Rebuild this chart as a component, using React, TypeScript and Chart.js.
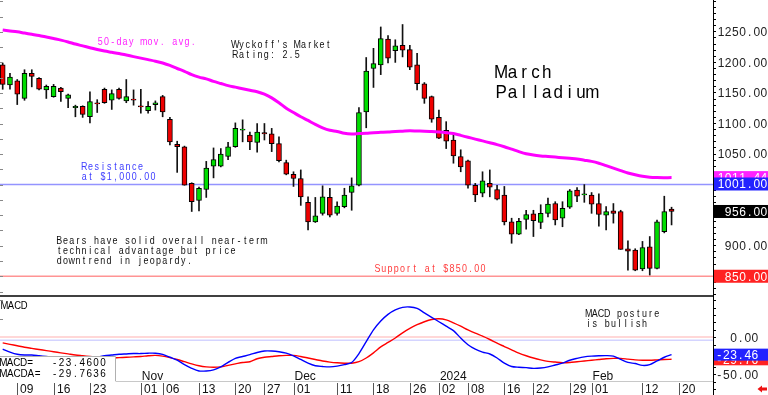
import React, { useEffect, useRef } from 'react';
import { Chart, registerables } from 'chart.js';

Chart.register(...registerables);

// ---------- DATA ----------
const opens = [
  1196, 1163, 1170, 1141, 1182, 1174, 1155, 1144, 1158, 1141,
  1126, 1128, 1111, 1134, 1156, 1138, 1156, 1137, 1140, 1129,
  1121, 1131, 1144, 1107, 1066, 1062, 1002, 974, 992, 1030,
  1030, 1046, 1062, 1089, 1081, 1069, 1085, 1083, 1067, 1036,
  1017, 1010, 971, 939, 953, 979, 953, 964, 987, 999,
  1119, 1190, 1196, 1238, 1219, 1228, 1221, 1196, 1165, 1144,
  1110, 1089, 1073, 1046, 1039, 999, 986, 1002, 992, 983,
  939, 919, 943, 952, 938, 953, 969, 945, 963, 991,
  983, 983, 969, 950, 957, 956, 895, 893, 862, 898,
  863, 923, 960,
];
const highs = [
  1199, 1182, 1172, 1188, 1188, 1175, 1163, 1164, 1159, 1148,
  1130, 1129, 1152, 1139, 1158, 1155, 1158, 1172, 1155, 1156,
  1136, 1137, 1146, 1110, 1071, 1063, 1003, 996, 1038, 1060,
  1059, 1069, 1101, 1106, 1086, 1100, 1100, 1092, 1078, 1040,
  1021, 1024, 980, 979, 998, 994, 972, 994, 1011, 1126,
  1208, 1223, 1258, 1244, 1237, 1262, 1228, 1215, 1167, 1145,
  1122, 1103, 1082, 1057, 1040, 1002, 1021, 1024, 999, 997,
  945, 945, 958, 958, 967, 978, 972, 972, 992, 995,
  1000, 987, 985, 964, 969, 958, 908, 895, 907, 915,
  942, 981, 963,
];
const lows = [
  1156, 1156, 1131, 1138, 1160, 1155, 1141, 1143, 1136, 1126,
  1111, 1110, 1101, 1118, 1133, 1123, 1140, 1134, 1130, 1117,
  1117, 1122, 1111, 1065, 1020, 999, 956, 957, 979, 1011,
  1029, 1041, 1061, 1070, 1057, 1053, 1073, 1054, 1037, 1016,
  997, 966, 926, 938, 950, 947, 950, 962, 958, 998,
  1093, 1159, 1180, 1199, 1200, 1209, 1188, 1155, 1133, 1102,
  1075, 1059, 1035, 1021, 994, 972, 980, 980, 975, 934,
  904, 918, 927, 915, 928, 947, 934, 931, 961, 972,
  971, 953, 932, 926, 937, 894, 860, 859, 859, 852,
  862, 921, 934,
];
const closes = [
  1164, 1176, 1148, 1182, 1177, 1156, 1161, 1161, 1152, 1147,
  1128, 1115, 1136, 1132, 1134, 1149, 1141, 1144, 1138, 1127,
  1128, 1134, 1119, 1070, 1062, 999, 972, 994, 1027, 1041,
  1050, 1062, 1092, 1091, 1070, 1086, 1083, 1067, 1039, 1017,
  1010, 980, 939, 949, 980, 950, 965, 983, 998, 1118,
  1186, 1198, 1239, 1207, 1227, 1220, 1192, 1165, 1141, 1107,
  1076, 1071, 1047, 1029, 999, 983, 1006, 996, 976, 939,
  919, 940, 951, 941, 953, 968, 942, 961, 990, 981,
  985, 968, 951, 956, 953, 894, 891, 860, 897, 863,
  939, 956, 956,
];
const ma50 = [
  1253, 1251.5, 1250, 1248, 1246, 1244, 1241.5, 1239, 1236.5, 1233.5,
  1230, 1227, 1224, 1221, 1218.5, 1216.5, 1214.5, 1212, 1209.5, 1207,
  1204.5, 1202, 1199, 1195, 1190, 1185.5, 1180, 1176, 1173, 1169,
  1165.5, 1162, 1159.5, 1157, 1154.5, 1152, 1148, 1142, 1134, 1125,
  1118, 1111, 1105, 1098.5, 1093, 1089, 1087, 1084, 1083, 1083.5,
  1084, 1085, 1085.5, 1086, 1087, 1087.5, 1088, 1087.7, 1087.5, 1086.8,
  1086, 1085, 1083.5, 1080.5, 1077.5, 1074.5, 1071.5, 1068.5, 1065.5, 1062,
  1058, 1054, 1050.5, 1048.4, 1047, 1046, 1045, 1044, 1043, 1042,
  1040, 1038, 1035, 1031, 1027, 1023, 1019, 1016, 1013.5, 1012,
  1011.5, 1011.4, 1011.44,
];
const macd = [
  -16, -20, -23, -24, -24, -25, -26, -27, -28, -29,
  -29, -29, -28, -27, -25, -24, -23, -22.5, -22, -22,
  -21.5, -21.5, -23, -27, -31, -37, -42, -45.5, -45.5, -44,
  -40, -34, -28.5, -26, -23.5, -20.5, -18.5, -18.5, -19.5, -21.5,
  -25, -30, -35, -38.5, -39.5, -40, -39, -37, -34, -22,
  -6, 10, 22, 31, 37, 40.5, 41, 39, 33, 27,
  21, 15, 9, -1, -10, -16, -20, -22.6, -28, -35,
  -39.5, -40.5, -41, -42, -41.5, -40, -37.5, -35, -31, -28.5,
  -26.5, -25.5, -25, -24.8, -25.5, -30, -34, -35.5, -38, -37,
  -32, -27, -23.46,
];
const macdSignal = [
  -7.5, -9.5, -11.5, -13.5, -15, -16.5, -18, -19.5, -21, -22.5,
  -24, -25, -26, -27, -27.5, -28, -27.5, -27, -26.5, -26,
  -25, -24.5, -25.5, -27.5, -30, -33, -36, -38.5, -40, -40.5,
  -40, -38, -36, -34, -33, -29, -27, -26, -25, -24.5,
  -24.5, -26, -28, -30, -32, -33.5, -34.5, -35, -35, -33,
  -28, -21, -13, -7, -1, 6, 12, 17, 21, 24,
  25, 23.5, 19.5, 15, 10, 5.5, 1.5, -3, -8, -12.5,
  -17, -21.5, -25, -28, -30.5, -32.5, -33.5, -34.3, -34, -33,
  -32, -31, -30, -29, -28.5, -28.5, -29.5, -30.5, -31, -31,
  -30.5, -30, -29.76,
];
const dateTickIndex = [2, 7, 12, 19, 22, 27, 32, 36, 40, 46, 51, 56, 60, 64, 69, 73, 78, 81, 88, 93];
const dateTickLabels = ['09', '16', '23', '01', '06', '13', '20', '27', '01', '11', '18', '26', '02', '08', '16', '22', '29', '01', '12', '20'];
const monthIndex = [19, 40, 60, 81];
const monthLabels = ['Nov', 'Dec', '2024', 'Feb'];
const priceAxisLabels = [1250, 1200, 1150, 1100, 1050, 900];
const macdAxisLabels = [0, -50];
const priceBadgeValues = [1011.44, 1001, 956, 850];
const priceBadgeColors = ['#ff22ff', '#2222ff', '#000000', '#ff2222'];
const macdBadgeValues = [-29.76, -23.46];
const macdBadgeColors = ['#ff2222', '#2222ff'];
const RESISTANCE = 1000;
const SUPPORT = 850;
const MACD_LAST = '-23.4600';
const MACDA_LAST = '-29.7636';

// ---------- LAYOUT ----------
const X_MIN = -0.3714;
const X_MAX = 97.70;
const Y_MIN = 655.65;
const Y_MAX = 1302.13;
const M_MIN = -78.0;
const M_MAX = 455.8;
const PANEL_SPLIT = 817.7;
const FONT = "'Liberation Sans', Arial, Helvetica, sans-serif";

function pitched(ctx: CanvasRenderingContext2D, text: string, x: number, baseline: number,
  pitch: number, size: number, color: string, sx = 1, align: 'left' | 'right' = 'left') {
  ctx.save();
  ctx.font = `${size}px ${FONT}`;
  ctx.fillStyle = color;
  ctx.textAlign = 'center';
  ctx.textBaseline = 'alphabetic';
  const start = align === 'right' ? x - pitch * text.length : x;
  for (let k = 0; k < text.length; k++) {
    const ch = text[k];
    if (ch === ' ') continue;
    ctx.save();
    ctx.translate(start + pitch * (k + 0.5), baseline);
    ctx.scale(sx, 1);
    ctx.fillText(ch, 0, 0);
    ctx.restore();
  }
  ctx.restore();
}

function hline(ctx: CanvasRenderingContext2D, x1: number, x2: number, y: number, color: string, w: number) {
  ctx.save();
  ctx.strokeStyle = color;
  ctx.lineWidth = w;
  ctx.beginPath();
  ctx.moveTo(x1, y);
  ctx.lineTo(x2, y);
  ctx.stroke();
  ctx.restore();
}

const overlay = {
  id: 'overlay',
  beforeDatasetsDraw(chart: any) {
    const { ctx, chartArea, scales } = chart;
    const y = scales.y, ym = scales.ym;
    const L = chartArea.left, R = chartArea.right;
    hline(ctx, L, R, y.getPixelForValue(RESISTANCE), '#9494ff', 1.5);
    hline(ctx, L, R, y.getPixelForValue(SUPPORT), '#ff9494', 1.5);
    hline(ctx, L, R, ym.getPixelForValue(0.4), '#ffcaca', 1.5);
    hline(ctx, L, R, ym.getPixelForValue(-3.9), '#d4d4ff', 1.5);
  },
  afterDatasetsDraw(chart: any) {
    const { ctx, chartArea, scales } = chart;
    const x = scales.x, y = scales.y, ym = scales.ym;
    const L = chartArea.left, R = chartArea.right;
    const W = chart.width, H = chart.height;
    const split = y.getPixelForValue(PANEL_SPLIT);

    // panel separator
    hline(ctx, L, R, split, '#000', 1.5);

    // left edge ticks
    ctx.save();
    ctx.strokeStyle = '#888';
    ctx.lineWidth = 1;
    for (let v = 825; v <= 1300; v += 25) {
      const py = Math.round(y.getPixelForValue(v)) + 0.5;
      if (py > split - 2) continue;
      ctx.beginPath(); ctx.moveTo(L, py); ctx.lineTo(L + 3, py); ctx.stroke();
    }
    for (const v of [50, 25, -25, -50]) {
      const py = Math.round(ym.getPixelForValue(v)) + 0.5;
      ctx.beginPath(); ctx.moveTo(L, py); ctx.lineTo(L + 3, py); ctx.stroke();
    }
    ctx.restore();

    // MACD axis ticks
    ctx.save();
    ctx.strokeStyle = '#000';
    ctx.lineWidth = 1;
    for (let v = -70; v <= 50; v += 10) {
      const py = Math.round(ym.getPixelForValue(v)) + 0.5;
      if (py < split + 2) continue;
      ctx.beginPath(); ctx.moveTo(R, py); ctx.lineTo(R + 3, py); ctx.stroke();
    }
    ctx.restore();

    // annotations
    pitched(ctx, '50-day mov. avg.', 97.2, 44.6, 6.2, 10.5, '#ff22ff', 0.85);
    pitched(ctx, "Wyckoff's Market", 232.2, 47.5, 6.2, 10.5, '#111', 0.85);
    pitched(ctx, 'Rating: 2.5', 232.2, 58.2, 6.2, 10.5, '#111', 0.85);
    pitched(ctx, 'March', 495.5, 78.3, 11.4, 18.5, '#000', 0.92);
    pitched(ctx, 'Palladium', 495.5, 98.3, 11.4, 18.5, '#000', 0.92);
    pitched(ctx, 'Resistance', 81.2, 169.5, 6.25, 10.5, '#3c3cff', 0.85);
    pitched(ctx, 'at $1,000.00', 81.2, 179.8, 6.25, 10.5, '#3c3cff', 0.85);
    pitched(ctx, 'Bears have solid overall near-term', 56.2, 244, 6.2, 10.5, '#111', 0.85);
    pitched(ctx, 'technical advantage but price', 56.2, 254, 6.2, 10.5, '#111', 0.85);
    pitched(ctx, 'downtrend in jeopardy.', 56.2, 264, 6.2, 10.5, '#111', 0.85);
    pitched(ctx, 'Support at $850.00', 374.5, 271.5, 6.2, 10.5, '#ff3c3c', 0.85);
    pitched(ctx, 'MACD posture', 585.5, 316.7, 6.2, 10.5, '#111', 0.85);
    pitched(ctx, 'is bullish', 585.5, 326.7, 6.2, 10.5, '#111', 0.85);
    pitched(ctx, 'MACD', 1, 309, 6.65, 10.5, '#000', 0.9);

    // MACD readout box
    ctx.save();
    ctx.fillStyle = '#fff';
    ctx.fillRect(L, 356, 115 - L, 25);
    ctx.strokeStyle = '#b0b0b0';
    ctx.lineWidth = 1;
    ctx.beginPath();
    ctx.moveTo(L, 356.5); ctx.lineTo(115.5, 356.5); ctx.lineTo(115.5, 381);
    ctx.stroke();
    ctx.restore();
    pitched(ctx, 'MACD=', 0, 366, 6.7, 11, '#000', 0.9);
    pitched(ctx, MACD_LAST, 51.2, 366, 6.9, 11, '#000', 0.9);
    pitched(ctx, 'MACDA=', 0, 376.6, 6.85, 11, '#000', 0.9);
    pitched(ctx, MACDA_LAST, 51.2, 376.6, 6.9, 11, '#000', 0.9);

    // bottom border of MACD panel
    hline(ctx, 115.5, R, 381.5, '#c8c8c8', 1);

    // date ticks and labels
    ctx.save();
    ctx.font = `12px ${FONT}`;
    ctx.textBaseline = 'alphabetic';
    ctx.textAlign = 'left';
    for (let k = 0; k < dateTickIndex.length; k++) {
      const px = Math.round(x.getPixelForValue(dateTickIndex[k])) + 0.5;
      ctx.strokeStyle = '#555';
      ctx.lineWidth = 1;
      ctx.beginPath(); ctx.moveTo(px, 383); ctx.lineTo(px, H); ctx.stroke();
      ctx.fillStyle = '#111';
      ctx.fillText(dateTickLabels[k], px + 2.5, 393.3);
    }
    for (let k = 0; k < monthIndex.length; k++) {
      const px = x.getPixelForValue(monthIndex[k]);
      ctx.fillStyle = '#111';
      ctx.fillText(monthLabels[k], px + 1, 379.5);
    }
    ctx.restore();

    // right axis labels
    for (const v of priceAxisLabels) {
      const cy = y.getPixelForValue(v);
      pitched(ctx, v.toFixed(2), W - 0.5, cy + 4.3, 7.15, 12, '#222', 1, 'right');
    }
    for (const v of macdAxisLabels) {
      const cy = ym.getPixelForValue(v);
      pitched(ctx, v.toFixed(2), W - 9.5, cy + 4.3, 7.15, 12, '#222', 1, 'right');
    }
    // price badges
    for (let k = 0; k < priceBadgeValues.length; k++) {
      const v = priceBadgeValues[k];
      const cy = y.getPixelForValue(v);
      ctx.save();
      ctx.fillStyle = priceBadgeColors[k];
      ctx.fillRect(R + 1, cy - 6.5, W - R - 1, 13);
      ctx.restore();
      pitched(ctx, v.toFixed(2), W - 0.5, cy + 4.3, 7.15, 12, '#fff', 1, 'right');
    }
    for (let k = 0; k < macdBadgeValues.length; k++) {
      const v = macdBadgeValues[k];
      const cy = ym.getPixelForValue(v);
      ctx.save();
      ctx.fillStyle = macdBadgeColors[k];
      ctx.fillRect(R + 1, cy - 6, W - R - 1, 12);
      ctx.restore();
      pitched(ctx, v.toFixed(2), W - 9.5, cy + 4.3, 7.15, 12, '#fff', 1, 'right');
    }

    // red arrow at bottom right
    ctx.save();
    ctx.fillStyle = '#ee1111';
    ctx.beginPath();
    ctx.moveTo(757.5, 389);
    ctx.lineTo(762, 385.5);
    ctx.lineTo(762, 387.5);
    ctx.lineTo(767, 387.5);
    ctx.lineTo(767, 390.5);
    ctx.lineTo(762, 390.5);
    ctx.lineTo(762, 392.5);
    ctx.closePath();
    ctx.fill();
    ctx.restore();
  },
};

export default function App() {
  const ref = useRef<HTMLCanvasElement | null>(null);
  useEffect(() => {
    if (!ref.current) return;
    const idx = closes.map((_, i) => i);
    const priceTicks: number[] = [];
    for (let v = 820; v <= 1300; v += 10) priceTicks.push(v);
    const chart = new Chart(ref.current, {
      type: 'bar',
      data: {
        datasets: [
          {
            type: 'bar',
            data: idx.map((i) => ({ x: i, y: [lows[i], highs[i]] })) as any,
            backgroundColor: '#111',
            barThickness: 1,
            grouped: false,
            yAxisID: 'y',
            order: 4,
          } as any,
          {
            type: 'bar',
            data: idx.map((i) => ({ x: i, y: [opens[i], Math.abs(closes[i] - opens[i]) < 1.5 ? closes[i] + (closes[i] >= opens[i] ? 1.5 : -1.5) : closes[i]] })) as any,
            backgroundColor: idx.map((i) => (closes[i] >= opens[i] ? '#00dd00' : '#ee0000')),
            borderColor: '#000',
            borderWidth: 1,
            borderSkipped: false,
            barThickness: 5,
            grouped: false,
            yAxisID: 'y',
            order: 3,
          } as any,
          {
            type: 'line',
            data: idx.map((i) => ({ x: i, y: ma50[i] })),
            borderColor: '#ff00ff',
            borderWidth: 3,
            pointRadius: 0,
            tension: 0.3,
            yAxisID: 'y',
            order: 2,
          } as any,
          {
            type: 'line',
            data: idx.map((i) => ({ x: i, y: macdSignal[i] })),
            borderColor: '#ff0000',
            borderWidth: 1.4,
            pointRadius: 0,
            tension: 0.3,
            yAxisID: 'ym',
            order: 1,
          } as any,
          {
            type: 'line',
            data: idx.map((i) => ({ x: i, y: macd[i] })),
            borderColor: '#0000ff',
            borderWidth: 1.4,
            pointRadius: 0,
            tension: 0.3,
            yAxisID: 'ym',
            order: 0,
          } as any,
        ],
      },
      options: {
        animation: false,
        responsive: false,
        devicePixelRatio: 1,
        events: [],
        layout: { padding: 0 },
        plugins: { legend: { display: false }, tooltip: { enabled: false } },
        scales: {
          x: { type: 'linear', min: X_MIN, max: X_MAX, offset: false, display: false },
          y: {
            type: 'linear',
            position: 'right',
            min: Y_MIN,
            max: Y_MAX,
            afterFit: (s: any) => { s.width = 55; },
            afterBuildTicks: (s: any) => { s.ticks = priceTicks.map((v) => ({ value: v })); },
            grid: { drawOnChartArea: false, drawTicks: true, tickLength: 3, color: '#000' },
            border: { display: true, color: '#000', width: 1 },
            ticks: { display: false },
          },
          ym: { type: 'linear', position: 'right', display: false, min: M_MIN, max: M_MAX },
        },
      } as any,
      plugins: [overlay],
    });
    return () => chart.destroy();
  }, []);
  return (
    <div style={{ position: 'fixed', left: 0, top: 0, width: 768, height: 395, background: '#fff' }}>
      <canvas ref={ref} width={768} height={395} style={{ display: 'block' }} />
    </div>
  );
}
